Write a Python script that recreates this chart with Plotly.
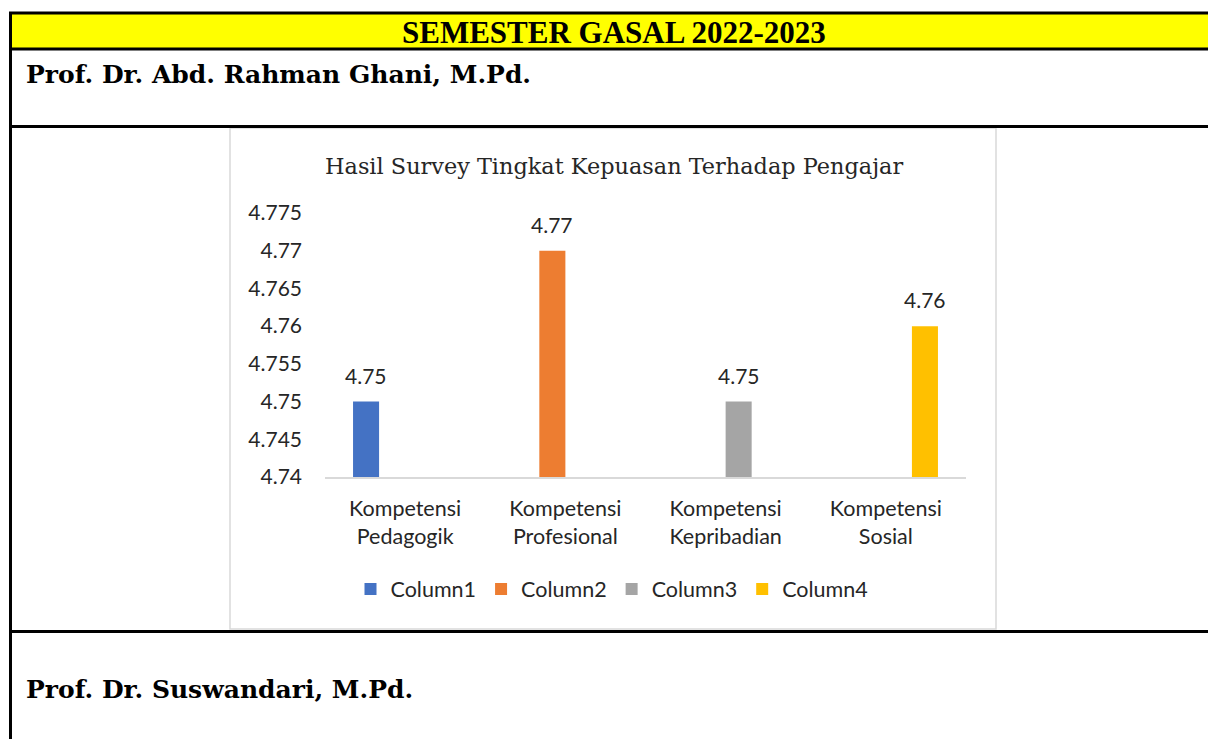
import plotly.graph_objects as go

# ---------------- data ----------------
categories = ["Kompetensi<br>Pedagogik", "Kompetensi<br>Profesional",
              "Kompetensi<br>Kepribadian", "Kompetensi<br>Sosial"]
series_names = ["Column1", "Column2", "Column3", "Column4"]
column1 = [4.75, None, None, None]
column2 = [None, 4.77, None, None]
column3 = [None, None, 4.75, None]
column4 = [None, None, None, 4.76]
series_values = [column1, column2, column3, column4]
colors = ["#4472C4", "#ED7D31", "#A5A5A5", "#FFC000"]
y_tickvals = [4.74, 4.745, 4.75, 4.755, 4.76, 4.765, 4.77, 4.775]
y_ticktext = ["4.74", "4.745", "4.75", "4.755", "4.76", "4.765", "4.77", "4.775"]

chart_title = "Hasil Survey Tingkat Kepuasan Terhadap Pengajar"
header_text = "SEMESTER GASAL 2022-2023"
name1 = "Prof. Dr. Abd. Rahman Ghani, M.Pd."
name2 = "Prof. Dr. Suswandari, M.Pd."

W, H = 1208, 739
def px(x):
    return x / W
def py(y):
    return 1 - y / H

CAL = "Lato, Carlito, Calibri, sans-serif"
SER = "DejaVu Serif, Cambria, serif"
HDR = "Liberation Serif, Cambria, serif"
TXT = "#262626"

fig = go.Figure()
for name, vals, col in zip(series_names, series_values, colors):
    fig.add_trace(go.Bar(name=name, x=categories, y=vals, marker_color=col,
                         marker_line_width=0))

# data labels (via axis scales)
bargap = 0.35
n = len(series_names)
slot = (1 - bargap) / n
annotations = []
for si, vals in enumerate(series_values):
    for ci, v in enumerate(vals):
        if v is None:
            continue
        off = -(1 - bargap) / 2 + slot * (si + 0.5)
        annotations.append(dict(x=ci + off, y=v, xref="x", yref="y",
                                text=f"{v:g}", showarrow=False,
                                yanchor="bottom", yshift=12,
                                font=dict(family=CAL, size=21, color=TXT)))

shapes = []
shapes.append(dict(type="rect", xref="paper", yref="paper",
                   x0=px(10), x1=px(1210), y0=py(13), y1=py(49),
                   fillcolor="#FFFF00", line_width=0, layer="below"))
shapes.append(dict(type="rect", xref="paper", yref="paper",
                   x0=px(230), x1=px(996), y0=py(128), y1=py(629),
                   fillcolor="white", line=dict(color="#D9D9D9", width=1.5),
                   layer="below"))
for yy in [13, 49, 126.5, 631.5]:
    shapes.append(dict(type="line", xref="paper", yref="paper",
                       x0=px(9), x1=px(1210), y0=py(yy), y1=py(yy),
                       line=dict(color="black", width=3)))
shapes.append(dict(type="line", xref="paper", yref="paper",
                   x0=px(10.5), x1=px(10.5), y0=py(12), y1=py(745),
                   line=dict(color="black", width=3)))

annotations += [
    dict(xref="paper", yref="paper", x=px(614), y=py(32), text=f"<b>{header_text}</b>",
         showarrow=False, xanchor="center", yanchor="middle",
         font=dict(family=HDR, size=31, color="black")),
    dict(xref="paper", yref="paper", x=px(24), y=py(74), text=f"<b>{name1}</b>",
         showarrow=False, xanchor="left", yanchor="middle",
         font=dict(family=SER, size=25, color="black")),
    dict(xref="paper", yref="paper", x=px(24), y=py(689), text=f"<b>{name2}</b>",
         showarrow=False, xanchor="left", yanchor="middle",
         font=dict(family=SER, size=25, color="black")),
    dict(xref="paper", yref="paper", x=px(614), y=py(166), text=chart_title,
         showarrow=False, xanchor="center", yanchor="middle",
         font=dict(family=SER, size=22.4, color=TXT)),
]

fig.update_layout(
    width=W, height=H,
    margin=dict(l=0, r=0, t=0, b=0, pad=0, autoexpand=False),
    paper_bgcolor="white", plot_bgcolor="rgba(0,0,0,0)",
    barmode="group", bargap=bargap, bargroupgap=0,
    shapes=shapes, annotations=annotations,
    showlegend=True,
    legend=dict(orientation="h", x=px(612), xanchor="center",
                y=py(589), yanchor="middle",
                font=dict(family=CAL, size=21.5, color=TXT),
                bgcolor="rgba(0,0,0,0)", itemwidth=30, traceorder="normal"),
    xaxis=dict(domain=[px(325), px(966)], showline=True, linecolor="#D9D9D9",
               linewidth=1.5, ticks="", showgrid=False, zeroline=False,
               tickfont=dict(family=CAL, size=21.5, color=TXT),
               ticklabelstandoff=11, fixedrange=True, automargin=False),
    yaxis=dict(domain=[py(477), py(213)], range=[4.74, 4.775],
               tickvals=y_tickvals, ticktext=y_ticktext, showline=False,
               showgrid=False, zeroline=False, ticks="",
               tickfont=dict(family=CAL, size=21, color=TXT),
               ticklabelstandoff=22, fixedrange=True, automargin=False),
)

fig.write_html("out.html", config={"displayModeBar": False},
               post_script="document.body.style.margin='0';document.body.style.overflow='hidden';")
